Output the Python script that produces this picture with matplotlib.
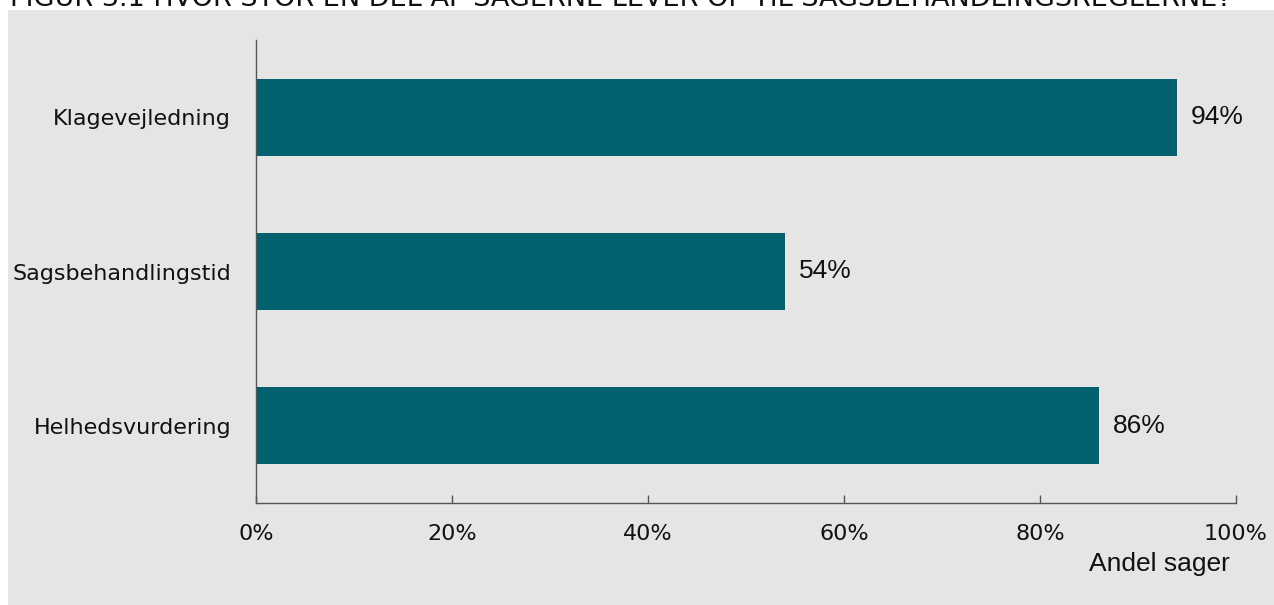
import matplotlib.pyplot as plt
from matplotlib.patches import Rectangle
from matplotlib.ticker import PercentFormatter

categories = ["Klagevejledning", "Sagsbehandlingstid", "Helhedsvurdering"]
shares = [94, 54, 86]
xticks = [0, 20, 40, 60, 80, 100]

title = "FIGUR 3.1 HVOR STOR EN DEL AF SAGERNE LEVER OP TIL SAGSBEHANDLINGSREGLERNE?"
bar_color = "#03616f"
panel_color = "#e5e5e5"
axis_color = "#555555"

fig = plt.figure(figsize=(12.74, 6.05), dpi=100)
fig.patch.set_facecolor("white")

# grey panel behind the chart
fig.add_artist(Rectangle((8 / 1274, 0), 1, 1 - 10 / 605, transform=fig.transFigure,
                         facecolor=panel_color, edgecolor="none", zorder=0))

fig.text(10 / 1274, 1 - 6 / 605, title, ha="left", va="baseline",
         fontsize=19.5, family="DejaVu Sans", color="#111111")

ax = fig.add_axes([256 / 1274, 1 - 503 / 605, 980 / 1274, 463 / 605])
ax.set_facecolor("none")

ypos = list(range(len(categories)))
ax.barh(ypos, shares, height=0.5, color=bar_color)
for y, v in zip(ypos, shares):
    ax.annotate(f"{v}%", (v, y), xytext=(10, 0), textcoords="offset points",
                ha="left", va="center", fontsize=19, family="Liberation Sans",
                color="#111111")

ax.set_ylim(2.5, -0.5)
ax.set_xlim(0, 100)
ax.set_yticks(ypos)
ax.set_yticklabels(categories, fontsize=16, family="DejaVu Sans", color="#111111")
ax.set_xticks(xticks)
ax.xaxis.set_major_formatter(PercentFormatter(decimals=0))
for lbl in ax.get_xticklabels():
    lbl.set_fontsize(16)
    lbl.set_family("DejaVu Sans")
    lbl.set_color("#111111")

ax.tick_params(axis="y", length=0, pad=18)
ax.tick_params(axis="x", direction="in", length=6, width=1, color=axis_color, pad=15)

for side in ["top", "right"]:
    ax.spines[side].set_visible(False)
for side in ["left", "bottom"]:
    ax.spines[side].set_color(axis_color)
    ax.spines[side].set_linewidth(1)

fig.text(1230 / 1274, 1 - 571 / 605, "Andel sager", ha="right", va="baseline",
         fontsize=19, family="Liberation Sans", color="#111111")

fig.savefig("out.png", dpi=100, facecolor=fig.get_facecolor())
